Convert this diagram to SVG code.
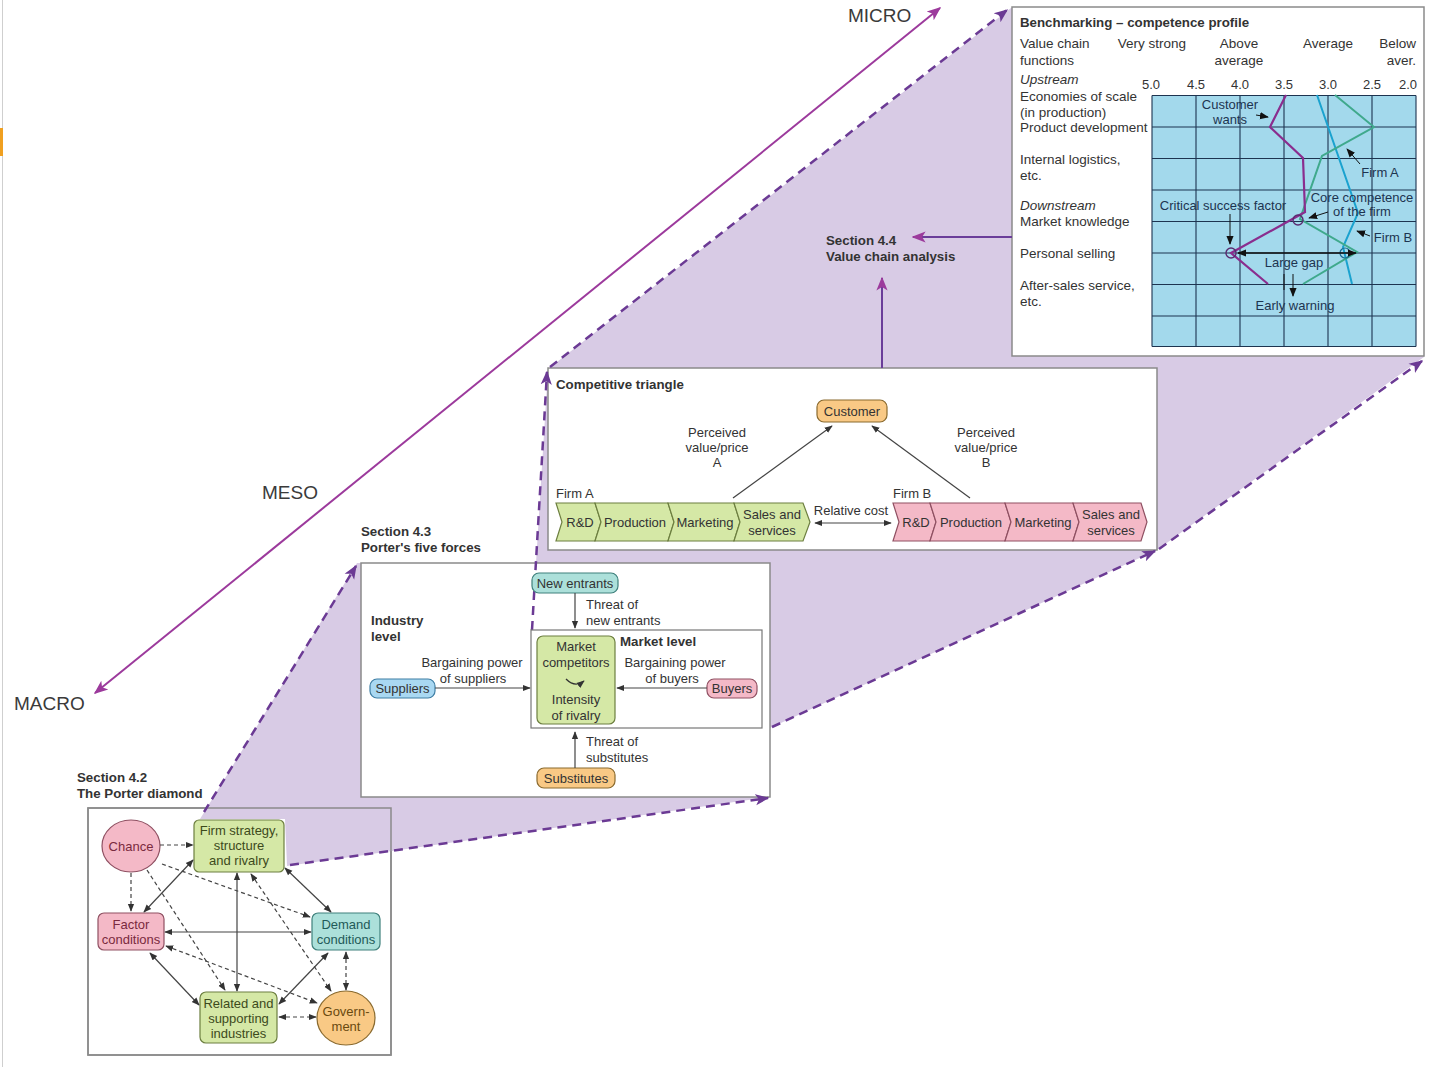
<svg xmlns="http://www.w3.org/2000/svg" width="1441" height="1067" viewBox="0 0 1441 1067">
  <defs>
    <style>
      .t { font-family: "Liberation Sans", Arial, sans-serif; font-size: 13px; fill: #333; }
      .c { text-anchor: middle; }
      .e { text-anchor: end; }
      .b { font-weight: bold; font-size: 13.3px; }
      .i { font-style: italic; }
      .lg { font-size: 13.5px; }
      .big { font-size: 19px; fill: #3a3a3a; }
      .box { fill: #fff; stroke: #8a8a8a; stroke-width: 1.5; }
      .frame { fill: none; stroke: #8a8a8a; stroke-width: 1.5; }
      .fd { fill: none; stroke: #6b3a94; stroke-width: 2.5; stroke-dasharray: 9 6; marker-end: url(#ahp); }
      .s { fill: none; stroke: #444; stroke-width: 1.2; marker-start: url(#ah); marker-end: url(#ah); }
      .s1 { fill: none; stroke: #444; stroke-width: 1.2; marker-end: url(#ah); }
      .d { fill: none; stroke: #444; stroke-width: 1.2; stroke-dasharray: 4 3; marker-start: url(#ah); marker-end: url(#ah); }
      .d1 { fill: none; stroke: #444; stroke-width: 1.2; stroke-dasharray: 4 3; marker-end: url(#ah); }
      .green { fill: #d5e8a6; stroke: #6d7f40; stroke-width: 1.2; }
      .pink { fill: #f4b9c7; stroke: #8f5062; stroke-width: 1.2; }
      .teal { fill: #ace0da; stroke: #3f807c; stroke-width: 1.2; }
      .orange { fill: #f9c985; stroke: #8a6a2e; stroke-width: 1.2; }
      .blue { fill: #a9d8f2; stroke: #3f7ea4; stroke-width: 1.2; }
      .grid { fill: none; stroke: #1d3450; stroke-width: 1.1; }
      .ct { fill: #1d3450; }
    </style>
    <marker id="ah" viewBox="0 0 10 10" refX="9" refY="5" markerWidth="8" markerHeight="8" markerUnits="userSpaceOnUse" orient="auto-start-reverse">
      <path d="M0,1 L10,5 L0,9 z" fill="#333"/>
    </marker>
    <marker id="ahk" viewBox="0 0 10 10" refX="9" refY="5" markerWidth="9" markerHeight="9" markerUnits="userSpaceOnUse" orient="auto-start-reverse">
      <path d="M0,1 L10,5 L0,9 z" fill="#111"/>
    </marker>
    <marker id="ahp" viewBox="0 0 10 10" refX="9" refY="5" markerWidth="14" markerHeight="14" markerUnits="userSpaceOnUse" orient="auto-start-reverse">
      <path d="M0,1 L10,5 L0,9 L2.5,5 z" fill="#6b3a94"/>
    </marker>
    <marker id="ahm" viewBox="0 0 10 10" refX="9" refY="5" markerWidth="14" markerHeight="14" markerUnits="userSpaceOnUse" orient="auto-start-reverse">
      <path d="M0,1 L10,5 L0,9 L2.5,5 z" fill="#9c3a9c"/>
    </marker>
  </defs>

  <rect width="1441" height="1067" fill="#fff"/>
  <line x1="2.5" y1="0" x2="2.5" y2="1067" stroke="#cfcfcf" stroke-width="1"/>
  <rect x="0" y="128" width="3" height="28" fill="#f0a020"/>

  <!-- Scale axis: macro to micro -->
  <g id="scale-axis">
    <line x1="95" y1="693" x2="940" y2="8" stroke="#9c3a9c" stroke-width="2" marker-start="url(#ahm)" marker-end="url(#ahm)"/>
    <text class="t big" x="848" y="22">MICRO</text>
    <text class="t big" x="262" y="499">MESO</text>
    <text class="t big" x="14" y="710">MACRO</text>
  </g>

  <!-- Diamond box background -->
  <rect class="box" x="88" y="808" width="303" height="247"/>

  <!-- Zoom funnel shading -->
  <polygon points="200,819 357,563 536,563 548,369 1011,8 1424,8 1424,357 1157,550 770,728 770,797 287,866 285,819" fill="#d8cbe5"/>

  <rect class="frame" x="88" y="808" width="303" height="247"/>

  <!-- Panel backgrounds -->
  <rect class="box" x="361" y="563" width="409" height="234"/>
  <rect class="box" x="548" y="368" width="609" height="182"/>
  <rect class="box" x="1012" y="7" width="412" height="349"/>

  <!-- Funnel edges -->
  <g id="funnel-connectors">
    <line class="fd" x1="204" y1="812" x2="356" y2="566"/>
    <line class="fd" x1="290" y1="865" x2="768" y2="798"/>
    <line class="fd" x1="532" y1="630" x2="547" y2="372"/>
    <line class="fd" x1="772" y1="727" x2="1155" y2="551"/>
    <line class="fd" x1="550" y1="367" x2="1007" y2="10"/>
    <line class="fd" x1="1159" y1="549" x2="1422" y2="361"/>
  </g>

  <!-- Section 4.4 pointers -->
  <g id="value-chain-analysis">
    <text class="t b" x="826" y="245">Section 4.4</text>
    <text class="t b" x="826" y="261">Value chain analysis</text>
    <line x1="1012" y1="237" x2="913" y2="237" stroke="#6a3d99" stroke-width="2" marker-end="url(#ahm)"/>
    <line x1="882" y1="368" x2="882" y2="278" stroke="#6a3d99" stroke-width="2" marker-end="url(#ahm)"/>
  </g>

  <!-- Benchmarking panel -->
  <g id="benchmarking">
    <text class="t b" x="1020" y="27">Benchmarking – competence profile</text>
    <text class="t lg" x="1020" y="48">Value chain</text>
    <text class="t lg" x="1020" y="65">functions</text>
    <text class="t c lg" x="1152" y="48">Very strong</text>
    <text class="t c lg" x="1239" y="48">Above</text>
    <text class="t c lg" x="1239" y="65">average</text>
    <text class="t c lg" x="1328" y="48">Average</text>
    <text class="t e lg" x="1416" y="48">Below</text>
    <text class="t e lg" x="1416" y="65">aver.</text>

    <text class="t i lg" x="1020" y="84">Upstream</text>
    <text class="t lg" x="1020" y="101">Economies of scale</text>
    <text class="t lg" x="1020" y="117">(in production)</text>
    <text class="t lg" x="1020" y="132">Product development</text>
    <text class="t lg" x="1020" y="164">Internal logistics,</text>
    <text class="t lg" x="1020" y="180">etc.</text>
    <text class="t i lg" x="1020" y="210">Downstream</text>
    <text class="t lg" x="1020" y="226">Market knowledge</text>
    <text class="t lg" x="1020" y="258">Personal selling</text>
    <text class="t lg" x="1020" y="290">After-sales service,</text>
    <text class="t lg" x="1020" y="306">etc.</text>

    <g class="t c">
      <text x="1151" y="89">5.0</text>
      <text x="1196" y="89">4.5</text>
      <text x="1240" y="89">4.0</text>
      <text x="1284" y="89">3.5</text>
      <text x="1328" y="89">3.0</text>
      <text x="1372" y="89">2.5</text>
      <text x="1408" y="89">2.0</text>
    </g>

    <rect x="1152" y="95.5" width="264" height="251" fill="#a3d9ec"/>
    <path class="grid" d="M1152,95.5 V346.5 M1196,95.5 V346.5 M1240,95.5 V346.5 M1284,95.5 V346.5 M1328,95.5 V346.5 M1372,95.5 V346.5 M1416,95.5 V346.5
      M1152,95.5 H1416 M1152,127 H1416 M1152,158.5 H1416 M1152,190 H1416 M1152,221.5 H1416 M1152,253 H1416 M1152,284.5 H1416 M1152,316 H1416 M1152,346.5 H1416"/>

    <!-- Profiles -->
    <polyline points="1317,95 1358,213 1343,247 1352,284" fill="none" stroke="#1aa2cf" stroke-width="2"/>
    <polyline points="1335,95 1374,127 1322,156 1300,219 1357,252 1303,284" fill="none" stroke="#3fa98c" stroke-width="2"/>
    <polyline points="1286,95 1270,127 1303,158 1305,212 1231,253 1268,284" fill="none" stroke="#8a2d8e" stroke-width="2.2"/>
    <circle cx="1298" cy="220" r="5" fill="none" stroke="#5a2a70" stroke-width="1.4"/>
    <circle cx="1231" cy="253" r="5" fill="none" stroke="#5a2a70" stroke-width="1.4"/>
    <circle cx="1345" cy="253" r="5" fill="none" stroke="#1a6a90" stroke-width="1.2"/>

    <!-- Annotations -->
    <line x1="1238" y1="253" x2="1356" y2="253" stroke="#111" stroke-width="1.6" marker-start="url(#ahk)" marker-end="url(#ahk)"/>
    <text class="t c ct" x="1230" y="109">Customer</text>
    <text class="t c ct" x="1230" y="124">wants</text>
    <line x1="1256" y1="115" x2="1268" y2="117" stroke="#111" stroke-width="1" marker-end="url(#ahk)"/>
    <text class="t c ct" x="1380" y="177">Firm A</text>
    <line x1="1360" y1="164" x2="1347" y2="149" stroke="#111" stroke-width="1" marker-end="url(#ahk)"/>
    <text class="t c ct" x="1223" y="210">Critical success factor</text>
    <line x1="1230" y1="214" x2="1230" y2="244" stroke="#111" stroke-width="1" marker-end="url(#ahk)"/>
    <text class="t c ct" x="1362" y="202">Core competence</text>
    <text class="t c ct" x="1362" y="216">of the firm</text>
    <line x1="1328" y1="212" x2="1309" y2="218" stroke="#111" stroke-width="1" marker-end="url(#ahk)"/>
    <text class="t c ct" x="1393" y="242">Firm B</text>
    <line x1="1370" y1="236" x2="1357" y2="231" stroke="#111" stroke-width="1" marker-end="url(#ahk)"/>
    <text class="t c ct" x="1294" y="267">Large gap</text>
    <line x1="1284" y1="274" x2="1284" y2="290" stroke="#111" stroke-width="1"/>
    <line x1="1293" y1="274" x2="1293" y2="296" stroke="#111" stroke-width="1" marker-end="url(#ahk)"/>
    <text class="t c ct" x="1295" y="310">Early warning</text>
  </g>

  <!-- Competitive triangle panel -->
  <g id="competitive-triangle">
    <text class="t b" x="556" y="389">Competitive triangle</text>
    <text class="t c" x="717" y="437">Perceived</text>
    <text class="t c" x="717" y="452">value/price</text>
    <text class="t c" x="717" y="467">A</text>
    <text class="t c" x="986" y="437">Perceived</text>
    <text class="t c" x="986" y="452">value/price</text>
    <text class="t c" x="986" y="467">B</text>
    <text class="t" x="556" y="498">Firm A</text>
    <text class="t" x="893" y="498">Firm B</text>
    <text class="t c" x="851" y="515">Relative cost</text>
  </g>
  <g id="customer">
    <rect class="orange" x="817" y="400" width="70" height="22" rx="7"/>
    <text class="t c" x="852" y="415.5">Customer</text>
  </g>
  <g id="firm-a-chain">
    <polygon class="green" points="556,503 595,503 601,522 595,541 556,541 562,522"/>
    <polygon class="green" points="595,503 668,503 674,522 668,541 595,541 601,522"/>
    <polygon class="green" points="668,503 734,503 740,522 734,541 668,541 674,522"/>
    <polygon class="green" points="734,503 803,503 810,522 803,541 734,541 740,522"/>
    <text class="t c" x="580" y="527">R&amp;D</text>
    <text class="t c" x="635" y="527">Production</text>
    <text class="t c" x="705" y="527">Marketing</text>
    <text class="t c" x="772" y="519">Sales and</text>
    <text class="t c" x="772" y="535">services</text>
  </g>
  <g id="firm-b-chain">
    <polygon class="pink" points="893,503 930,503 936,522 930,541 893,541 899,522"/>
    <polygon class="pink" points="930,503 1005,503 1011,522 1005,541 930,541 936,522"/>
    <polygon class="pink" points="1005,503 1073,503 1079,522 1073,541 1005,541 1011,522"/>
    <polygon class="pink" points="1073,503 1141,503 1147,522 1141,541 1073,541 1079,522"/>
    <text class="t c" x="916" y="527">R&amp;D</text>
    <text class="t c" x="971" y="527">Production</text>
    <text class="t c" x="1043" y="527">Marketing</text>
    <text class="t c" x="1111" y="519">Sales and</text>
    <text class="t c" x="1111" y="535">services</text>
  </g>

  <!-- Five forces panel -->
  <g id="five-forces">
    <text class="t b" x="361" y="536">Section 4.3</text>
    <text class="t b" x="361" y="552">Porter's five forces</text>
    <text class="t b" x="371" y="625">Industry</text>
    <text class="t b" x="371" y="641">level</text>
    <rect x="531" y="630" width="231" height="98" fill="#fff" stroke="#777" stroke-width="1.2"/>
    <text class="t b" x="620" y="646">Market level</text>
    <text class="t" x="586" y="609">Threat of</text>
    <text class="t" x="586" y="625">new entrants</text>
    <text class="t c" x="472" y="667">Bargaining power</text>
    <text class="t c" x="473" y="683">of suppliers</text>
    <text class="t c" x="675" y="667">Bargaining power</text>
    <text class="t c" x="672" y="683">of buyers</text>
    <text class="t" x="586" y="746">Threat of</text>
    <text class="t" x="586" y="762">substitutes</text>
  </g>
  <g id="new-entrants">
    <rect class="teal" x="532" y="573" width="86" height="20" rx="7"/>
    <text class="t c" x="575" y="587.5">New entrants</text>
  </g>
  <g id="market-competitors">
    <rect class="green" x="537" y="636" width="78" height="88" rx="6"/>
    <text class="t c" x="576" y="651">Market</text>
    <text class="t c" x="576" y="667">competitors</text>
    <path d="M566,679 Q575,688 584,681" fill="none" stroke="#333" stroke-width="1.3" marker-end="url(#ah)"/>
    <text class="t c" x="576" y="704">Intensity</text>
    <text class="t c" x="576" y="720">of rivalry</text>
  </g>
  <g id="suppliers">
    <rect class="blue" x="370" y="679" width="65" height="19" rx="7"/>
    <text class="t c" x="402.5" y="693">Suppliers</text>
  </g>
  <g id="buyers">
    <rect class="pink" x="707" y="679" width="50" height="19" rx="7"/>
    <text class="t c" x="732" y="693">Buyers</text>
  </g>
  <g id="substitutes">
    <rect class="orange" x="537" y="768" width="78" height="20" rx="7"/>
    <text class="t c" x="576" y="782.5">Substitutes</text>
  </g>

  <!-- Porter diamond panel -->
  <g id="porter-diamond">
    <text class="t b" x="77" y="782">Section 4.2</text>
    <text class="t b" x="77" y="798">The Porter diamond</text>
  </g>
  <g id="chance">
    <ellipse class="pink" cx="131" cy="846" rx="29" ry="26"/>
    <text class="t c" x="131" y="850.5" style="fill:#7a2a3e">Chance</text>
  </g>
  <g id="firm-strategy">
    <rect class="green" x="194" y="820" width="90" height="52" rx="5"/>
    <text class="t c" x="239" y="835" style="fill:#3d4a1c">Firm strategy,</text>
    <text class="t c" x="239" y="850" style="fill:#3d4a1c">structure</text>
    <text class="t c" x="239" y="865" style="fill:#3d4a1c">and rivalry</text>
  </g>
  <g id="factor-conditions">
    <rect class="pink" x="98" y="913" width="66" height="37" rx="6"/>
    <text class="t c" x="131" y="929" style="fill:#7a2a3e">Factor</text>
    <text class="t c" x="131" y="944" style="fill:#7a2a3e">conditions</text>
  </g>
  <g id="demand-conditions">
    <rect class="teal" x="312" y="913" width="68" height="37" rx="6"/>
    <text class="t c" x="346" y="929" style="fill:#1f5a58">Demand</text>
    <text class="t c" x="346" y="944" style="fill:#1f5a58">conditions</text>
  </g>
  <g id="related-industries">
    <rect class="green" x="200" y="992" width="77" height="51" rx="6"/>
    <text class="t c" x="238.5" y="1008" style="fill:#3d4a1c">Related and</text>
    <text class="t c" x="238.5" y="1023" style="fill:#3d4a1c">supporting</text>
    <text class="t c" x="238.5" y="1038" style="fill:#3d4a1c">industries</text>
  </g>
  <g id="government">
    <ellipse class="orange" cx="346" cy="1018" rx="29" ry="27"/>
    <text class="t c" x="346" y="1016" style="fill:#6a4a10">Govern-</text>
    <text class="t c" x="346" y="1031" style="fill:#6a4a10">ment</text>
  </g>

  <!-- Connectors -->
  <g id="connectors">
    <!-- competitive triangle -->
    <line class="s1" x1="733" y1="498" x2="832" y2="426"/>
    <line class="s1" x1="970" y1="498" x2="872" y2="426"/>
    <line class="s" x1="815" y1="523" x2="891" y2="523"/>
    <!-- five forces -->
    <line class="s1" x1="575" y1="593" x2="575" y2="628"/>
    <line class="s1" x1="435" y1="688" x2="530" y2="688"/>
    <line class="s1" x1="707" y1="688" x2="617" y2="688"/>
    <line class="s1" x1="575" y1="768" x2="575" y2="732"/>
    <!-- diamond: determinants -->
    <line class="s" x1="193" y1="860" x2="144" y2="912"/>
    <line class="s" x1="285" y1="868" x2="331" y2="912"/>
    <line class="s" x1="237" y1="873" x2="237" y2="991"/>
    <line class="s" x1="165" y1="932" x2="311" y2="932"/>
    <line class="s" x1="150" y1="953" x2="199" y2="1005"/>
    <line class="s" x1="328" y1="953" x2="279" y2="1004"/>
    <!-- diamond: chance and government -->
    <line class="d1" x1="160" y1="845" x2="193" y2="845"/>
    <line class="d1" x1="131" y1="873" x2="131" y2="911"/>
    <line class="d1" x1="162" y1="864" x2="310" y2="917"/>
    <line class="d1" x1="147" y1="870" x2="225" y2="990"/>
    <line class="d" x1="251" y1="874" x2="331" y2="991"/>
    <line class="d" x1="166" y1="946" x2="317" y2="1003"/>
    <line class="d" x1="346" y1="952" x2="346" y2="990"/>
    <line class="d" x1="279" y1="1017" x2="316" y2="1017"/>
  </g>
</svg>
